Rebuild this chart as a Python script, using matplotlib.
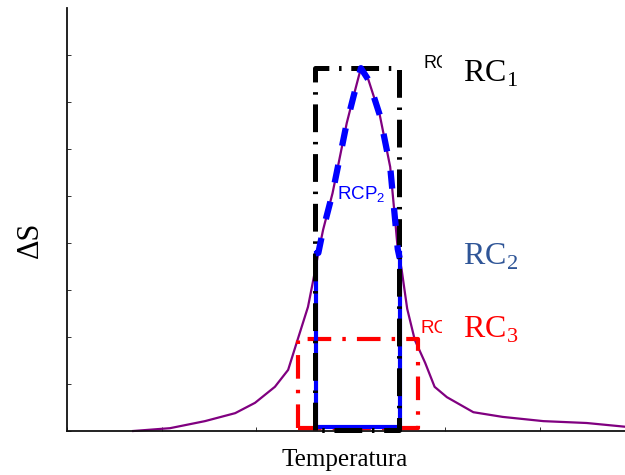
import matplotlib
matplotlib.use("Agg")
import matplotlib.pyplot as plt
from matplotlib.transforms import Bbox
import numpy as np

plt.rcParams['lines.scale_dashes'] = False

# Entropy-change curve vs temperature
temp = [0.70, 1.09, 1.46, 1.78, 1.99, 2.20, 2.34, 2.44, 2.55, 2.60, 2.66,
        2.71, 2.81, 2.96, 3.05, 3.11, 3.19, 3.31, 3.42, 3.48, 3.50, 3.54,
        3.60, 3.68, 3.79, 3.89, 4.02, 4.30, 4.61, 5.04, 5.50, 5.91, 6.17]
delta_s = [0.00, 0.06, 0.21, 0.38, 0.60, 0.94, 1.30, 1.94, 2.64, 3.15, 3.79,
           4.28, 5.06, 6.55, 7.26, 7.72, 7.47, 6.72, 5.62, 4.32, 3.87, 3.45,
           2.60, 1.94, 1.45, 0.94, 0.72, 0.40, 0.30, 0.21, 0.17, 0.09, 0.06]

# Rectangle RC1 (black), RC3 (red), and RCP2 region (blue)
rc1_x = [2.62, 3.51]
rc1_y = [0.02, 7.72]
rc3_x = [2.44, 3.71]
rc3_y = [0.06, 1.96]
rcp2_x = [2.63, 3.52]
rcp2_y = [0.08, 3.78]

x_ticks = [0, 1, 2, 3, 4, 5, 6]
y_ticks = [0, 1, 2, 3, 4, 5, 6, 7, 8]

W, H = 625, 475
fig = plt.figure(figsize=(W / 100, H / 100), dpi=100)
x0, x1 = 67, 67 + 94.5 * 6.3
y0, y1 = 431, 8
ax = fig.add_axes([x0 / W, (H - y0) / H, (x1 - x0) / W, (y0 - y1) / H])
ax.set_xlim(0, 6.3)
ax.set_ylim(0, 9)
for s in ('top', 'right'):
    ax.spines[s].set_visible(False)
for s in ('left', 'bottom'):
    ax.spines[s].set_linewidth(1.3)
    ax.spines[s].set_color('#111111')
ax.set_xticks(x_ticks)
ax.set_yticks(y_ticks)
ax.tick_params(direction='in', length=3, width=0.7, color='#333333',
               labelbottom=False, labelleft=False)

t = np.array(temp)
d = np.array(delta_s)

ax.plot(t, d, color='#800080', lw=1.6, zorder=2, clip_on=False)

def rect_path(xs, ys):
    return ([xs[0], xs[0], xs[1], xs[1], xs[0]],
            [ys[0], ys[1], ys[1], ys[0], ys[0]])

px, py = rect_path(rc3_x, rc3_y)
ax.plot(px, py, color='red', lw=3.0, linestyle=(0, (17, 8, 2.5, 8)), zorder=3, clip_on=False)

bx = [rcp2_x[0], rcp2_x[0], rcp2_x[1], rcp2_x[1]]
by = [rcp2_y[1], rcp2_y[0], rcp2_y[0], rcp2_y[1]]
ax.plot(bx, by, color='blue', lw=3.0, solid_joinstyle='miter', zorder=4, clip_on=False)

px, py = rect_path(rc1_x, rc1_y)
ax.plot(px, py, color='black', lw=3.6, linestyle=(0, (20, 7, 1.8, 7)), zorder=5, clip_on=False)

mask = (t > rcp2_x[0]) & (t < rcp2_x[1])
cx = np.concatenate(([rcp2_x[0]], t[mask], [rcp2_x[1]]))
cy = np.concatenate(([rcp2_y[1]], d[mask], [rcp2_y[1] - 0.1]))
ax.plot(cx, cy, color='blue', lw=4.5, linestyle=(0, (13, 14)), zorder=6, clip_on=False)

serif = 'Liberation Serif'
sans = 'Liberation Sans'
ax.text(4.19, 7.43, r'RC$_\mathregular{1}$', family=serif, fontsize=23, color='black', va='baseline')
ax.text(4.19, 3.53, r'RC$_\mathregular{2}$', family=serif, fontsize=23, color='#2F5597', va='baseline')
ax.text(4.19, 1.98, r'RC$_\mathregular{3}$', family=serif, fontsize=23, color='red', va='baseline')

clip = Bbox.from_extents(0, 0, 442, H)
t1 = ax.text(3.77, 7.72, 'RC', family=sans, fontsize=13, color='black', va='baseline')
t2 = ax.text(3.74, 2.09, 'RC', family=sans, fontsize=13.5, color='red', va='baseline')
for tx in (t1, t2):
    tx.set_clip_box(clip)
    tx.set_clip_on(True)

ax.text(2.86, 4.92, r'RCP$_\mathregular{2}$', family=sans, fontsize=13.5, color='blue', va='baseline', zorder=7)

fig.text(30 / W, 1 - 240 / H, 'ΔS', family=serif, fontsize=22, rotation=90, ha='center', va='center')
fig.text(345 / W, 1 - 460 / H, 'Temperatura', family=serif, fontsize=18, ha='center', va='center')

fig.savefig('out.png', dpi=100)
